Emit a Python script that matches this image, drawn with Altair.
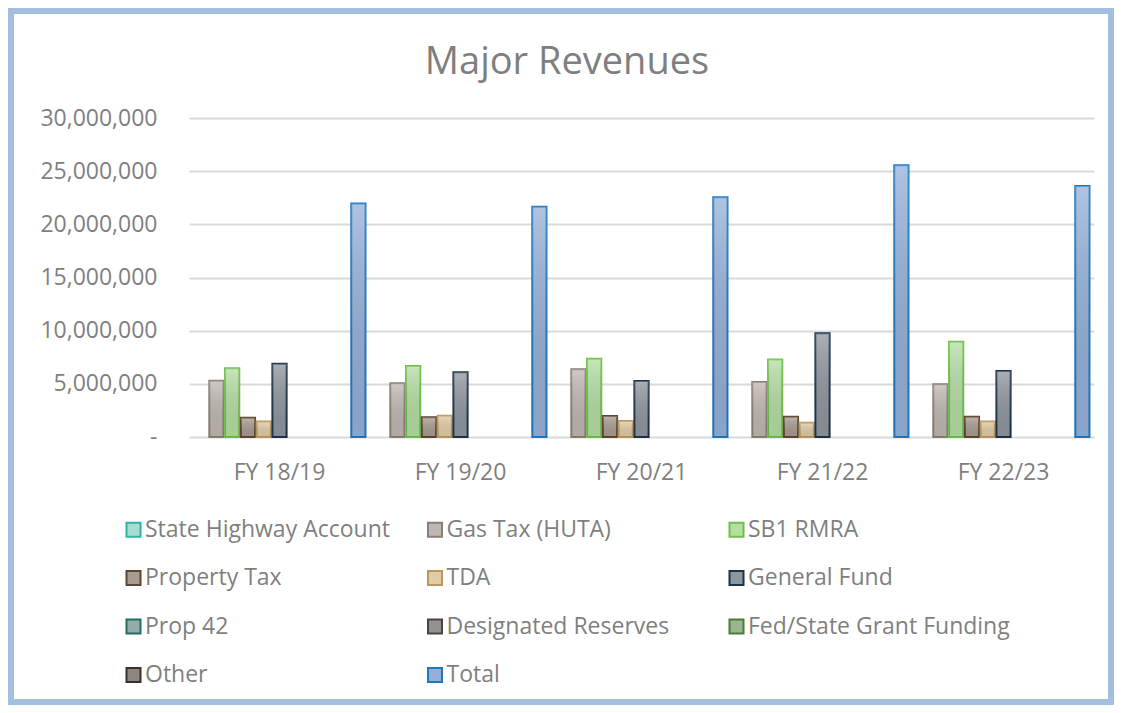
import altair as alt
import pandas as pd

# ---- data ----
chart_title = "Major Revenues"
years = ["FY 18/19", "FY 19/20", "FY 20/21", "FY 21/22", "FY 22/23"]
series = ["State Highway Account", "Gas Tax (HUTA)", "SB1 RMRA", "Property Tax", "TDA",
          "General Fund", "Prop 42", "Designated Reserves", "Fed/State Grant Funding",
          "Other", "Total"]

state_highway = [0, 0, 0, 0, 0]
gas_tax = [5300000, 5050000, 6360000, 5170000, 4950000]
sb1_rmra = [6460000, 6680000, 7360000, 7300000, 8960000]
property_tax = [1820000, 1850000, 1970000, 1900000, 1900000]
tda = [1450000, 2000000, 1500000, 1350000, 1450000]
general_fund = [6900000, 6080000, 5270000, 9750000, 6200000]
prop_42 = [0, 0, 0, 0, 0]
designated_reserves = [0, 0, 0, 0, 0]
fed_state_grants = [0, 0, 0, 0, 0]
other = [0, 0, 0, 0, 0]
total = [21970000, 21660000, 22540000, 25550000, 23600000]

y_ticks = [0, 5000000, 10000000, 15000000, 20000000, 25000000, 30000000]

# ---- styles ----
fills = ["#a8ddd6", "#bfb8b2", "#b5dea3", "#a89c92", "#e2cca6", "#8f969e",
         "#94aca7", "#95918e", "#9cb493", "#8c8782", "#95b0d8"]
strokes = ["#2bb5a8", "#8a7e74", "#6cc04a", "#5c4630", "#b89760", "#1d3348",
           "#206e66", "#4a4440", "#4a7c34", "#3b3026", "#1f77c0"]

values_by_series = [state_highway, gas_tax, sb1_rmra, property_tax, tda, general_fund,
                    prop_42, designated_reserves, fed_state_grants, other, total]

rows = []
for s, vals in zip(series, values_by_series):
    for yr, v in zip(years, vals):
        rows.append({"Year": yr, "Series": s, "Value": v})
df = pd.DataFrame(rows)

W, H = 905, 319
PAD_L, PAD_T, PAD_R, PAD_B = 181, 110, 20, 268
TEXT = "#7f7f7f"
FONT = "Open Sans"

legend = alt.Legend(
    title=None, orient="none", legendX=-67, legendY=400, columns=3,
    direction="horizontal", gridAlign="all", columnPadding=16.5, rowPadding=24.5,
    symbolType="square", symbolSize=196, symbolStrokeWidth=2, labelFontSize=23,
    labelColor=TEXT, labelFont=FONT, labelOffset=0, labelLimit=400, padding=0,
)

x_enc = alt.X("Year:N", sort=years,
              scale=alt.Scale(domain=years, paddingInner=0.05, paddingOuter=0.025),
              axis=alt.Axis(title=None, labelAngle=0, domain=False, ticks=False, grid=False,
                            labelFontSize=23, labelColor=TEXT, labelPadding=24,
                            labelFont=FONT))
xoff_enc = alt.XOffset("Series:N", sort=series,
                       scale=alt.Scale(domain=series, paddingInner=0.1))
y_enc = alt.Y("Value:Q", scale=alt.Scale(domain=[0, 30000000], nice=False),
              axis=alt.Axis(title=None, values=y_ticks, domain=False, ticks=False,
                            gridColor="#d9d9d9", gridWidth=2, labelFontSize=23,
                            labelColor=TEXT, labelPadding=32, labelFont=FONT,
                            labelExpr="datum.value == 0 ? '-\u00a0\u00a0\u00a0' : format(datum.value, ',')"))

base = alt.Chart(df).transform_filter("datum.Value > 0")

bars = base.mark_bar(strokeWidth=2).encode(
    x=x_enc, xOffset=xoff_enc, y=y_enc,
    fill=alt.Fill("Series:N", sort=series,
                  scale=alt.Scale(domain=series, range=fills), legend=legend),
    stroke=alt.Stroke("Series:N", sort=series,
                      scale=alt.Scale(domain=series, range=strokes), legend=legend),
)

sheen = base.mark_bar(
    strokeWidth=0,
    fill=alt.LinearGradient(
        gradient="linear", x1=0, y1=0, x2=0, y2=1,
        stops=[alt.GradientStop(offset=0, color="rgba(255,255,255,0.25)"),
               alt.GradientStop(offset=1, color="rgba(0,0,0,0.07)")],
    ),
).encode(x=x_enc, xOffset=xoff_enc, y=y_enc)

frame = alt.Chart(pd.DataFrame({"f": [0]})).mark_rect(
    filled=False, stroke="#a3bfdd", strokeWidth=6
).encode(
    x=alt.value(-PAD_L + 3), x2=alt.value(W + PAD_R - 3),
    y=alt.value(-PAD_T + 3), y2=alt.value(H + PAD_B - 3),
)

title = alt.Chart(pd.DataFrame({"t": [chart_title]})).mark_text(
    font=FONT, fontSize=38, color=TEXT, align="center", baseline="alphabetic"
).encode(text="t:N", x=alt.value(378), y=alt.value(-44))

chart = alt.layer(frame, bars, sheen, title).properties(
    width=W, height=H,
    background="white",
    autosize=alt.AutoSizeParams(type="none"),
    padding={"left": PAD_L, "top": PAD_T, "right": PAD_R, "bottom": PAD_B},
).configure_view(stroke="transparent", strokeWidth=0)

chart.save("out.html", embed_options={"renderer": "svg", "actions": False})
